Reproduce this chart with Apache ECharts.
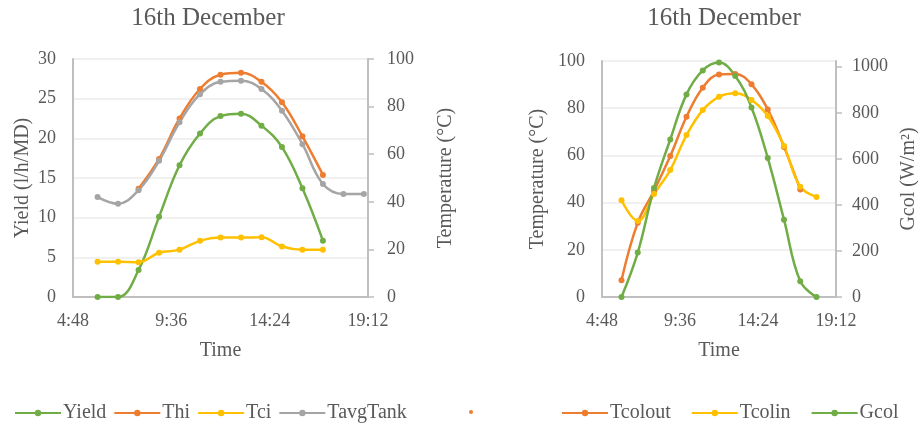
<!DOCTYPE html>
<html>
<head>
<meta charset="utf-8">
<script src="https://cdn.jsdelivr.net/npm/echarts@6/dist/echarts.min.js"></script>
<style>
html,body{margin:0;padding:0;background:#fff;}
#c{width:920px;height:425px;}
</style>
</head>
<body>
<div id="c"></div>
<script>
// ---- data (time in minutes after midnight) ----
var titleText = '16th December';
var timesLeft = [360, 420, 480, 540, 600, 660, 720, 780, 840, 900, 960, 1020, 1080, 1140];
var yieldVals = [0, 0, 3.4, 10.1, 16.6, 20.6, 22.8, 23.1, 21.6, 18.9, 13.7, 7.1];
var thiVals = [null, null, 45.5, 58.0, 75.0, 87.4, 93.4, 94.2, 90.4, 81.8, 67.5, 51.3];
var tciVals = [14.8, 14.8, 14.6, 18.6, 19.9, 23.6, 25.0, 25.0, 25.1, 21.2, 19.9, 19.9];
var tavgTankVals = [42.0, 39.2, 44.9, 57.2, 73.4, 85.2, 90.4, 90.9, 87.4, 78.3, 64.2, 47.5, 43.3, 43.3];

var timesRight = [360, 420, 480, 540, 600, 660, 720, 780, 840, 900, 960, 1020, 1080];
var tcoloutVals = [7.1, 31.5, 45.0, 59.7, 76.4, 88.7, 94.3, 94.5, 90.1, 79.5, 63.6, 45.6];
var tcolinVals = [41.0, 32.2, 43.6, 53.8, 68.6, 79.2, 84.8, 86.3, 83.5, 76.7, 64.0, 46.7, 42.4];
var gcolVals = [0, 193, 473, 684, 880, 984, 1018, 960, 823, 604, 336, 68, 0];

var xTicks = [288, 576, 864, 1152];       // 4:48, 9:36, 14:24, 19:12
var gcolTicks = [0, 200, 400, 600, 800, 1000];

function pairs(xs, ys) {
  var out = [];
  for (var i = 0; i < ys.length; i++) out.push([xs[i], ys[i]]);
  return out;
}
function fmtTime(v) {
  var m = Math.round(v);
  var h = Math.floor(m / 60), mm = m % 60;
  return h + ':' + (mm < 10 ? '0' : '') + mm;
}
function plain(v) { return String(v); }

var FONT = 'Liberation Serif';
var TXT = '#595959';
var AXIS = '#BFBFBF';
var GRIDC = '#EBEBEB';
var C_GREEN = '#70AD47', C_ORANGE = '#ED7D31', C_YELLOW = '#FFC000', C_GRAY = '#A5A5A5';

function xAx(gi) {
  return {
    type: 'value', gridIndex: gi, min: 288, max: 1152, interval: 288,
    name: 'Time', nameLocation: 'middle', nameGap: 44,
    nameTextStyle: {fontFamily: FONT, fontSize: 20, color: TXT},
    axisLine: {show: true, lineStyle: {color: AXIS, width: 2}},
    axisTick: {show: false},
    splitLine: {show: false},
    axisLabel: {fontFamily: FONT, fontSize: 18, color: TXT, margin: 15, formatter: fmtTime}
  };
}
function yAx(o) {
  var base = {
    type: 'value', nameLocation: 'middle', nameRotate: 90,
    nameTextStyle: {fontFamily: FONT, fontSize: 20, color: TXT},
    axisLine: {show: true, lineStyle: {color: AXIS, width: 2}},
    axisTick: {show: false},
    splitLine: {show: false},
    axisLabel: {fontFamily: FONT, fontSize: 18, color: TXT, margin: 17, formatter: plain}
  };
  for (var k in o) base[k] = o[k];
  return base;
}
function lineSeries(name, color, xi, yi, data) {
  return {
    name: name, type: 'line', xAxisIndex: xi, yAxisIndex: yi,
    data: data, smooth: 0.4, connectNulls: false,
    symbol: 'circle', symbolSize: 6, showSymbol: true,
    lineStyle: {color: color, width: 2.5},
    itemStyle: {color: color},
    emphasis: {disabled: true}
  };
}

var option = {
  animation: false,
  backgroundColor: '#ffffff',
  title: [
    {text: titleText, left: 208, top: 6, textAlign: 'center', padding: 0,
     textStyle: {fontFamily: FONT, fontSize: 25, fontWeight: 'normal', color: TXT}},
    {text: titleText, left: 724, top: 6, textAlign: 'center', padding: 0,
     textStyle: {fontFamily: FONT, fontSize: 25, fontWeight: 'normal', color: TXT}}
  ],
  grid: [
    {left: 73, right: 552, top: 59, bottom: 128},
    {left: 602, right: 83, top: 61, bottom: 128}
  ],
  xAxis: [xAx(0), xAx(1)],
  yAxis: [
    yAx({gridIndex: 0, position: 'left', min: 0, max: 30, interval: 5,
         name: 'Yield (l/h/MD)', nameGap: 40,
         splitLine: {show: true, lineStyle: {color: GRIDC, width: 1.5}}}),
    yAx({gridIndex: 0, position: 'right', min: 0, max: 100, interval: 20,
         name: 'Temperature (°C)', nameGap: 68,
         axisTick: {show: true, inside: false, length: 6, lineStyle: {color: AXIS, width: 1.5}},
         axisLabel: {fontFamily: FONT, fontSize: 18, color: TXT, margin: 19, formatter: plain}}),
    yAx({gridIndex: 1, position: 'left', min: 0, max: 100, interval: 20,
         name: 'Temperature (°C)', nameGap: 54,
         splitLine: {show: true, lineStyle: {color: GRIDC, width: 1.5}}}),
    yAx({gridIndex: 1, position: 'right', min: 0, max: 1025,
         name: 'Gcol (W/m²)', nameGap: 63,
         axisTick: {show: true, inside: false, length: 6, customValues: gcolTicks, lineStyle: {color: AXIS, width: 1.5}},
         axisLabel: {fontFamily: FONT, fontSize: 18, color: TXT, margin: 16, customValues: gcolTicks, formatter: plain}})
  ],
  legend: [
    {data: ['Yield', 'Thi', 'Tci', 'TavgTank'], left: 9, top: 398, itemWidth: 46, itemHeight: 8, itemGap: 7,
     textStyle: {fontFamily: FONT, fontSize: 20, color: TXT, padding: [0, 0, 0, -3]}, selectedMode: false},
    {data: ['dot'], left: 464, top: 405, itemWidth: 4, itemHeight: 4, icon: 'circle', formatter: function(){return '';},
     textStyle: {fontSize: 1}, selectedMode: false},
    {data: ['Tcolout', 'Tcolin', 'Gcol'], left: 556, top: 398, itemWidth: 46, itemHeight: 8, itemGap: 20,
     textStyle: {fontFamily: FONT, fontSize: 20, color: TXT, padding: [0, 0, 0, -3]}, selectedMode: false}
  ],
  series: [
    lineSeries('Yield', C_GREEN, 0, 0, pairs(timesLeft, yieldVals)),
    lineSeries('Thi', C_ORANGE, 0, 1, pairs(timesLeft, thiVals)),
    lineSeries('Tci', C_YELLOW, 0, 1, pairs(timesLeft, tciVals)),
    lineSeries('TavgTank', C_GRAY, 0, 1, pairs(timesLeft, tavgTankVals)),
    lineSeries('Tcolout', C_ORANGE, 1, 2, pairs(timesRight, tcoloutVals)),
    lineSeries('Tcolin', C_YELLOW, 1, 2, pairs(timesRight, tcolinVals)),
    lineSeries('Gcol', C_GREEN, 1, 3, pairs(timesRight, gcolVals)),
    {name: 'dot', type: 'line', xAxisIndex: 1, yAxisIndex: 2, data: [],
     symbol: 'circle', itemStyle: {color: C_ORANGE}, lineStyle: {color: C_ORANGE}}
  ]
};

var chart = echarts.init(document.getElementById('c'), null, {renderer: 'canvas'});
chart.setOption(option);
</script>
</body>
</html>
